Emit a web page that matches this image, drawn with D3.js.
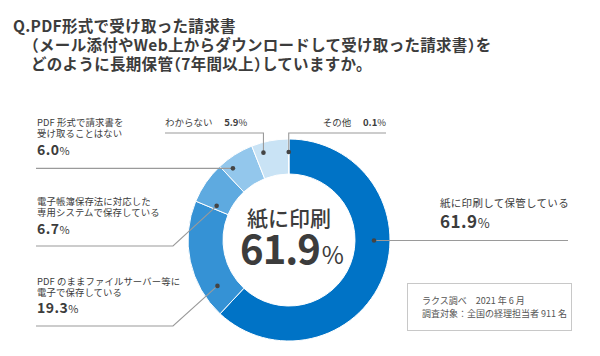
<!DOCTYPE html>
<html><head><meta charset="utf-8">
<script src="https://cdn.jsdelivr.net/npm/d3@7"></script>
<style>
html,body{margin:0;padding:0;background:#fff;}
svg{display:block;font-family:"Noto Sans CJK JP","Noto Sans",sans-serif;}
.halt{font-feature-settings:"halt";}
</style></head>
<body><svg id="c" width="600" height="356"></svg>
<script>
// ---- data ----
const titleLines = ["Q.PDF形式で受け取った請求書", "（メール添付やWeb上からダウンロードして受け取った請求書）を", "どのように長期保管（7年間以上）していますか。"];
const categories = ["紙に印刷して保管している", "PDF のままファイルサーバー等に\n電子で保存している", "電子帳簿保存法に対応した\n専用システムで保存している", "PDF 形式で請求書を\n受け取ることはない", "わからない", "その他"];
const values = [61.9, 19.3, 6.7, 6.0, 5.9, 0.1];
const colors = ["#0073c6", "#3592d5", "#5eaae0", "#93c7ec", "#c9e3f5", "#e6f1fa"];
const centerLabel = "紙に印刷";
const noteLines = ["ラクス調べ　2021 年 6 月", "調査対象：全国の経理担当者 911 名"];

// ---- layout ----
const cx = 289, cy = 240, rOuter = 101, rInner = 66;
const leaders = [
  {frac: 0.405, r: 85, type: "h", endX: 568, lx: 440, ly: 207, vy: 228, big: true},
  {frac: 0.205, r: 85, type: "diag", elbow: [173, 326], endX: 36, lx: 37, ly: 285, vy: 313},
  {frac: 0.11, r: 80, type: "diag", elbow: [173, 246], endX: 36, lx: 37, ly: 205, vy: 234},
  {frac: 0.24, r: 91, type: "h", endX: 36, lx: 37, ly: 126, vy: 155},
  {frac: 0.25, r: 91, type: "v", topY: 133, endX: 165, lx: 165, ly: 126, inline: true},
  {frac: 0.5, r: 88, type: "v", topY: 133, endX: 386, lx: 386, ly: 126, inline: true, anchorEnd: true}
];

const svg = d3.select("#c");
const ink = "#3c3c3c";

// title
const tl = svg.append("g").selectAll("text").data(titleLines).join("text")
  .attr("x", (d, i) => i === 0 ? 13 : 31)
  .attr("y", (d, i) => 32 + i * 19)
  .attr("font-size", 15.5).attr("font-weight", 700).attr("fill", ink)
  .attr("letter-spacing", 0.3);
tl.each(function(d) {
  const parts = d.split(/([（）])/).filter(s => s.length);
  d3.select(this).selectAll("tspan").data(parts).join("tspan")
    .attr("class", s => (s === "（" || s === "）") ? "halt" : null)
    .text(s => s);
});

const pie = d3.pie().sort(null).value(d => d)(values);
const arc = d3.arc().innerRadius(rInner).outerRadius(rOuter);
const g = svg.append("g").attr("transform", `translate(${cx},${cy})`);
g.selectAll("path").data(pie).join("path")
  .attr("d", arc).attr("fill", (d, i) => colors[i])
  .attr("stroke", "#fff").attr("stroke-width", 1);

// leaders
const lg = svg.append("g");
pie.forEach((p, i) => {
  const L = leaders[i];
  const a = p.startAngle + L.frac * (p.endAngle - p.startAngle);
  const dx = cx + L.r * Math.sin(a), dy = cy - L.r * Math.cos(a);
  let pts;
  if (L.type === "h") pts = [[dx, dy], [L.endX, dy]];
  else if (L.type === "diag") pts = [[dx, dy], L.elbow, [L.endX, L.elbow[1]]];
  else pts = [[dx, dy], [dx, L.topY], [L.endX, L.topY]];
  lg.append("path").attr("d", d3.line()(pts)).attr("fill", "none")
    .attr("stroke", "#9a9a9a").attr("stroke-width", 1.1);
  lg.append("circle").attr("cx", dx).attr("cy", dy).attr("r", 2.3).attr("fill", "#444");

  const lines = categories[i].split("\n");
  if (L.inline) {
    const t = lg.append("text").attr("x", L.lx).attr("y", L.ly)
      .attr("font-size", 9.5).attr("fill", ink)
      .attr("text-anchor", L.anchorEnd ? "end" : "start");
    t.append("tspan").text(lines[0] + "　 ");
    t.append("tspan").attr("font-weight", 700).text(d3.format(".1f")(values[i]));
    t.append("tspan").attr("font-weight", 400).text("%");
  } else {
    lg.append("g").selectAll("text").data(lines).join("text")
      .attr("x", L.lx).attr("y", (d, k) => L.ly + k * 11)
      .attr("font-size", L.big ? 10.5 : 9.4).attr("fill", ink)
      .attr("letter-spacing", L.big ? 0.3 : 0.1)
      .text(d => d);
    const v = lg.append("text").attr("x", L.lx).attr("y", L.vy).attr("fill", ink);
    v.append("tspan").attr("font-size", L.big ? 17 : 14).attr("font-weight", 700)
      .attr("letter-spacing", 0.5).text(d3.format(".1f")(values[i]));
    v.append("tspan").attr("font-size", L.big ? 13 : 11).attr("font-weight", 400).text("%");
  }
});

// center label
svg.append("text").attr("x", cx).attr("y", 226).attr("text-anchor", "middle")
  .attr("font-size", 21).attr("font-weight", 500).attr("fill", ink).text(centerLabel);
const ct = svg.append("text").attr("x", cx + 3).attr("y", 264).attr("text-anchor", "middle").attr("fill", ink);
ct.append("tspan").attr("font-size", 40).attr("font-weight", 700).attr("letter-spacing", -1).text(d3.format(".1f")(values[0]));
ct.append("tspan").attr("font-size", 24).attr("font-weight", 400).attr("dx", 2).text("%");

// note box
svg.append("rect").attr("x", 407.5).attr("y", 283.5).attr("width", 164).attr("height", 47)
  .attr("fill", "#fff").attr("stroke", "#c8c8c8").attr("stroke-width", 1);
svg.append("g").selectAll("text").data(noteLines).join("text")
  .attr("x", 422).attr("y", (d, i) => 304 + i * 13)
  .attr("font-size", 9).attr("fill", "#555").text(d => d);
</script></body></html>
